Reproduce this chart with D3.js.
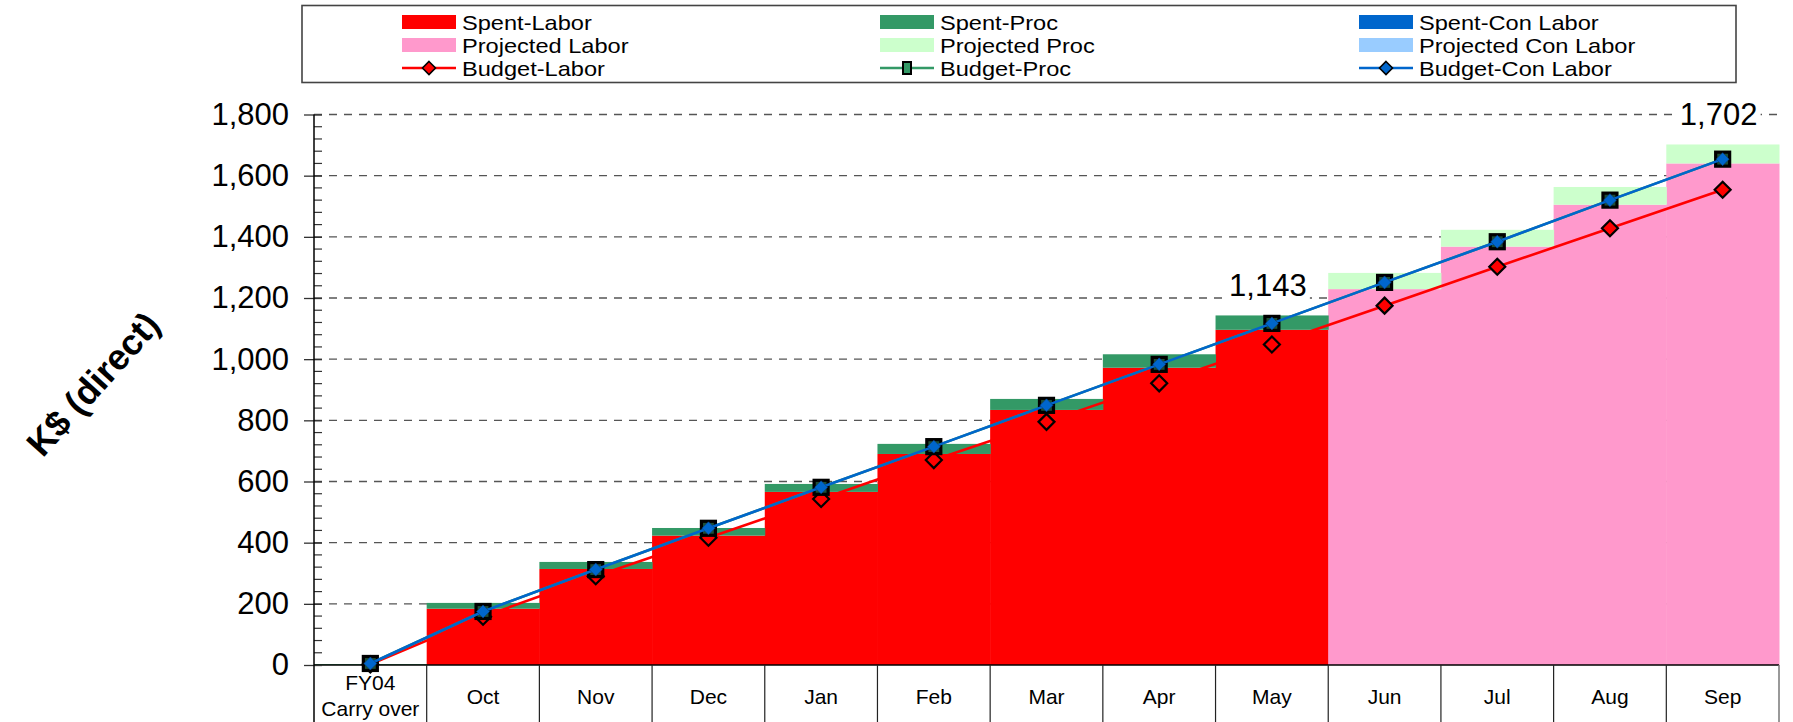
<!DOCTYPE html>
<html>
<head>
<meta charset="utf-8">
<script src="https://cdn.jsdelivr.net/npm/d3@7"></script>
<style>
  html, body { margin: 0; padding: 0; background: #fff; }
  svg { display: block; font-family: Arial, "Liberation Sans", sans-serif; }
</style>
</head>
<body>
<div class="chart-container"></div>
<script>
// chart values
const categories = ["FY04\nCarry over", "Oct", "Nov", "Dec", "Jan", "Feb", "Mar", "Apr", "May", "Jun", "Jul", "Aug", "Sep"];
const spentLabor    = [0, 184, 314, 423, 566, 690, 834, 972, 1096, null, null, null, null];
const spentProc     = [3, 19, 23, 25, 26, 33, 36, 44, 47, null, null, null, null];
const spentConLabor = [0, 0, 0, 0, 0, 0, 0, 0, 0, null, null, null, null];
const projLabor     = [null, null, null, null, null, null, null, null, null, 1229, 1368, 1505, 1640];
const projProc      = [null, null, null, null, null, null, null, null, null, 53, 55, 58, 62];
const projConLabor  = [null, null, null, null, null, null, null, null, null, 0, 0, 0, 0];
const budgetLabor    = [2, 158, 290, 416, 543, 670, 795, 921, 1048, 1175, 1302, 1428, 1554];
const budgetProc     = [5, 175, 312, 447, 581, 714, 849, 983, 1117, 1251, 1384, 1520, 1654];
const budgetConLabor = [5, 175, 312, 447, 581, 714, 849, 983, 1117, 1251, 1384, 1520, 1654];
const totalLabels = ["May", "Sep"];
const yTicks = [0, 200, 400, 600, 800, 1000, 1200, 1400, 1600, 1800];

const colors = {
  spentLabor: "#FF0000", spentProc: "#339966", spentCon: "#0066CC",
  projLabor: "#FF99CC", projProc: "#CCFFCC", projCon: "#99CCFF"
};

const W = 1793, H = 722;
const svg = d3.select(".chart-container").append("svg")
  .attr("width", W).attr("height", H);

const x = d3.scaleBand().domain(categories).range([314, 1779]).padding(0);
const y = d3.scaleLinear().domain([0, 1800]).range([665, 114.5]);

// rows for stacking
const rows = categories.map((c, i) => ({
  cat: c,
  labor: spentLabor[i] != null ? spentLabor[i] : projLabor[i],
  proc: spentProc[i] != null ? spentProc[i] : projProc[i],
  con: spentConLabor[i] != null ? spentConLabor[i] : projConLabor[i],
  projected: spentLabor[i] == null
}));
const stack = d3.stack().keys(["labor", "proc", "con"])(rows);

// gridlines
svg.append("g").selectAll("line").data(yTicks.filter(d => d > 0)).join("line")
  .attr("x1", 314).attr("x2", 1779)
  .attr("y1", d => y(d)).attr("y2", d => y(d))
  .attr("stroke", "#555").attr("stroke-width", 1.3)
  .attr("stroke-dasharray", "8,7");

// bars
const fillFor = {
  labor: r => r.projected ? colors.projLabor : colors.spentLabor,
  proc: r => r.projected ? colors.projProc : colors.spentProc,
  con: r => r.projected ? colors.projCon : colors.spentCon
};
stack.forEach(layer => {
  svg.append("g").selectAll("rect").data(layer).join("rect")
    .attr("x", d => x(d.data.cat))
    .attr("width", x.bandwidth() + 0.5)
    .attr("y", d => y(d[1]))
    .attr("height", d => Math.max(0, y(d[0]) - y(d[1])))
    .attr("fill", d => fillFor[layer.key](d.data));
});

// total labels, on a white patch that hides the gridline
const lab = svg.append("g").selectAll("g").data(rows.filter(r => totalLabels.includes(r.cat))).join("g")
  .attr("transform", d => `translate(${x(d.cat) + x.bandwidth() / 2 - 4},${y(d.labor + d.proc + d.con) - 19})`);
lab.append("rect").attr("x", -42).attr("y", -26).attr("width", 84).attr("height", 30).attr("fill", "#fff");
lab.append("text")
  .attr("text-anchor", "middle")
  .style("font-size", "31px")
  .text(d => d3.format(",")(d.labor + d.proc + d.con));

// x axis table
const cx = c => x(c) + x.bandwidth() / 2;
const tbl = svg.append("g");
tbl.append("line").attr("x1", 314).attr("x2", 1779).attr("y1", 665).attr("y2", 665)
  .attr("stroke", "#000").attr("stroke-width", 1.3);
tbl.selectAll(".div").data(categories.slice(1)).join("line")
  .attr("x1", d => x(d)).attr("x2", d => x(d)).attr("y1", 665).attr("y2", H)
  .attr("stroke", "#222").attr("stroke-width", 1.2);
tbl.append("line").attr("x1", 1779).attr("x2", 1779).attr("y1", 665).attr("y2", H)
  .attr("stroke", "#777").attr("stroke-width", 1.5);
tbl.selectAll("text").data(categories).join("text")
  .attr("text-anchor", "middle")
  .style("font-size", "21px")
  .each(function(d) {
    const lines = d.split("\n");
    const t = d3.select(this);
    lines.forEach((l, k) => {
      t.append("tspan").attr("x", cx(d))
        .attr("y", lines.length === 1 ? 704 : 690 + k * 26)
        .text(l);
    });
  });

// y axis
const yAxis = svg.append("g").attr("transform", "translate(314,0)")
  .call(d3.axisLeft(y).tickValues(yTicks).tickFormat(d3.format(",")).tickSizeInner(10).tickSizeOuter(0).tickPadding(15));
yAxis.select(".domain").remove();
yAxis.selectAll(".tick line").attr("stroke", "#333").attr("stroke-width", 1.3).attr("x2", 8).attr("x1", -10);
yAxis.selectAll(".tick text").style("font-size", "31px").style("font-family", "Arial, 'Liberation Sans', sans-serif").attr("fill", "#000");
svg.append("g").selectAll("line").data(d3.range(0, 1801, 40).filter(d => d % 200 !== 0)).join("line")
  .attr("x1", 314).attr("x2", 322).attr("y1", d => y(d)).attr("y2", d => y(d))
  .attr("stroke", "#333").attr("stroke-width", 1.2);
svg.append("line").attr("x1", 314).attr("x2", 314).attr("y1", y(1800)).attr("y2", H)
  .attr("stroke", "#000").attr("stroke-width", 1.5);

// axis title
svg.append("text")
  .attr("transform", "translate(93,384) rotate(-48)")
  .attr("text-anchor", "middle").attr("dominant-baseline", "central")
  .style("font-size", "36px").style("font-weight", "bold")
  .text("K$ (direct)");

// budget lines and markers
const line = d3.line().x((d, i) => cx(categories[i])).y(d => y(d));
const diamond = (s) => `M0,${-s} L${s},0 L0,${s} L${-s},0 Z`;

svg.append("path").datum(budgetLabor).attr("d", line)
  .attr("fill", "none").attr("stroke", "#FF0000").attr("stroke-width", 2.6);
svg.append("g").selectAll("path").data(budgetLabor).join("path")
  .attr("transform", (d, i) => `translate(${cx(categories[i])},${y(d)})`)
  .attr("d", diamond(8)).attr("fill", "#FF0000").attr("stroke", "#000").attr("stroke-width", 2.2);

svg.append("path").datum(budgetProc).attr("d", line)
  .attr("fill", "none").attr("stroke", "#339966").attr("stroke-width", 2.6);
svg.append("g").selectAll("rect").data(budgetProc).join("rect")
  .attr("x", (d, i) => cx(categories[i]) - 7).attr("y", d => y(d) - 7)
  .attr("width", 14).attr("height", 14)
  .attr("fill", "#1d4f36").attr("stroke", "#000").attr("stroke-width", 3.2);

svg.append("path").datum(budgetConLabor).attr("d", line)
  .attr("fill", "none").attr("stroke", "#0066CC").attr("stroke-width", 2.6);
svg.append("g").selectAll("path").data(budgetConLabor).join("path")
  .attr("transform", (d, i) => `translate(${cx(categories[i])},${y(d)})`)
  .attr("d", diamond(6.5)).attr("fill", "#0066CC").attr("stroke", "#0a3d7a").attr("stroke-width", 0.6);

// legend
const legendItems = [
  { name: "Spent-Labor", type: "box", color: colors.spentLabor },
  { name: "Spent-Proc", type: "box", color: colors.spentProc },
  { name: "Spent-Con Labor", type: "box", color: colors.spentCon },
  { name: "Projected Labor", type: "box", color: colors.projLabor },
  { name: "Projected Proc", type: "box", color: colors.projProc },
  { name: "Projected Con Labor", type: "box", color: colors.projCon },
  { name: "Budget-Labor", type: "diamond", color: "#FF0000" },
  { name: "Budget-Proc", type: "square", color: "#339966" },
  { name: "Budget-Con Labor", type: "diamond", color: "#0066CC" }
];
const lg = svg.append("g");
lg.append("rect").attr("x", 302).attr("y", 5.5).attr("width", 1434).attr("height", 77)
  .attr("fill", "#fff").attr("stroke", "#444").attr("stroke-width", 1.6);
const colX = [402, 880, 1359];
const rowY = [22, 45, 68];
legendItems.forEach((it, i) => {
  const g = lg.append("g").attr("transform", `translate(${colX[i % 3]},${rowY[Math.floor(i / 3)]})`);
  if (it.type === "box") {
    g.append("rect").attr("x", 0).attr("y", -7).attr("width", 54).attr("height", 14).attr("fill", it.color);
  } else {
    g.append("line").attr("x1", 0).attr("x2", 54).attr("y1", 0).attr("y2", 0)
      .attr("stroke", it.color).attr("stroke-width", 2.6);
    if (it.type === "diamond") {
      g.append("path").attr("transform", "translate(27,0)").attr("d", diamond(6.5))
        .attr("fill", it.color).attr("stroke", "#000").attr("stroke-width", 1.6);
    } else {
      g.append("rect").attr("x", 23).attr("y", -6).attr("width", 8).attr("height", 12)
        .attr("fill", it.color).attr("stroke", "#000").attr("stroke-width", 2);
    }
  }
  // the legend type is a little stretched sideways in the original
  g.append("text").attr("transform", "translate(60,1) scale(1.18,1)")
    .attr("dominant-baseline", "central")
    .style("font-size", "20px").text(it.name);
});
</script>
</body>
</html>
